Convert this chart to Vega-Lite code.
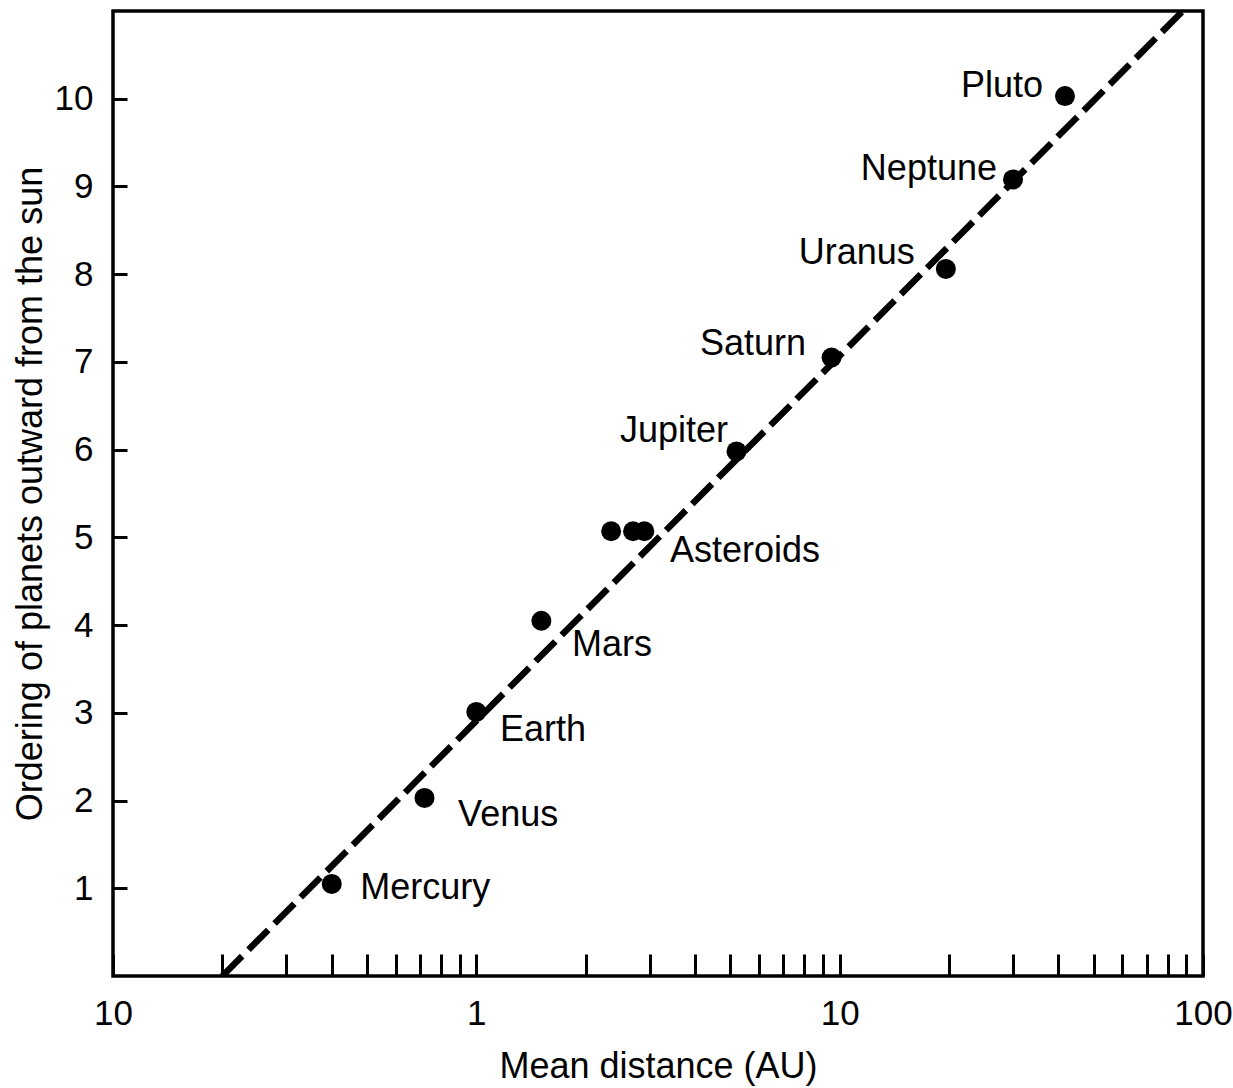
{
  "$schema": "https://vega.github.io/schema/vega-lite/v6.json",
  "width": 1090,
  "height": 965,
  "autosize": {"type": "none"},
  "padding": {"left": 113, "top": 11, "right": 30, "bottom": 112},
  "background": "white",
  "config": {
    "view": {"stroke": "black", "strokeWidth": 3.5},
    "font": "Liberation Sans",
    "axis": {
      "grid": false,
      "domain": false,
      "tickColor": "black",
      "labelColor": "black",
      "titleColor": "black",
      "labelFont": "Liberation Sans",
      "titleFont": "Liberation Sans",
      "labelFontSize": 35,
      "titleFontSize": 36,
      "titleFontWeight": "normal"
    }
  },
  "datasets": {
    "fit": [
      {"distance": 0.2, "order": 0},
      {"distance": 88, "order": 11}
    ],
    "planets": [
      {"name": "Mercury", "distance": 0.40, "order": 1.05},
      {"name": "Venus", "distance": 0.72, "order": 2.03},
      {"name": "Earth", "distance": 1.0, "order": 3.01},
      {"name": "Mars", "distance": 1.51, "order": 4.05},
      {"name": "Asteroid A", "distance": 2.35, "order": 5.07},
      {"name": "Asteroid B", "distance": 2.70, "order": 5.07},
      {"name": "Asteroid C", "distance": 2.90, "order": 5.07},
      {"name": "Jupiter", "distance": 5.2, "order": 5.98},
      {"name": "Saturn", "distance": 9.5, "order": 7.05},
      {"name": "Uranus", "distance": 19.6, "order": 8.06},
      {"name": "Neptune", "distance": 30.0, "order": 9.08},
      {"name": "Pluto", "distance": 41.7, "order": 10.03}
    ],
    "labels": [
      {"label": "Mercury", "side": "left", "distance": 0.479, "order": 1.0},
      {"label": "Venus", "side": "left", "distance": 0.891, "order": 1.84},
      {"label": "Earth", "side": "left", "distance": 1.162, "order": 2.8},
      {"label": "Mars", "side": "left", "distance": 1.834, "order": 3.77},
      {"label": "Asteroids", "side": "left", "distance": 3.41, "order": 4.84},
      {"label": "Jupiter", "side": "right", "distance": 4.93, "order": 6.21},
      {"label": "Saturn", "side": "right", "distance": 8.08, "order": 7.2},
      {"label": "Uranus", "side": "right", "distance": 16.1, "order": 8.24},
      {"label": "Neptune", "side": "right", "distance": 27.1, "order": 9.2},
      {"label": "Pluto", "side": "right", "distance": 36.3, "order": 10.14}
    ]
  },
  "layer": [
    {
      "data": {"name": "fit"},
      "mark": {"type": "line", "strokeDash": [28, 9], "strokeWidth": 6.5, "color": "black", "clip": true, "strokeCap": "butt"},
      "encoding": {
        "x": {
          "field": "distance", "type": "quantitative",
          "scale": {"type": "log", "domain": [0.1, 100], "nice": false},
          "axis": {
            "title": "Mean distance (AU)",
            "values": [0.1, 0.2, 0.3, 0.4, 0.5, 0.6, 0.7, 0.8, 0.9, 1, 2, 3, 4, 5, 6, 7, 8, 9, 10, 20, 30, 40, 50, 60, 70, 80, 90, 100],
            "labelExpr": "datum.value == 0.1 ? '10' : (datum.value == 1 ? '1' : (datum.value == 10 ? '10' : (datum.value == 100 ? '100' : '')))",
            "tickSize": -22,
            "tickWidth": 3,
            "labelPadding": 42,
            "labelOverlap": false,
            "labelFlush": false,
            "titlePadding": 18
          }
        },
        "y": {
          "field": "order", "type": "quantitative",
          "scale": {"domain": [0, 11], "nice": false},
          "axis": {
            "title": "Ordering of planets outward from the sun",
            "values": [1, 2, 3, 4, 5, 6, 7, 8, 9, 10],
            "format": "d",
            "tickSize": -14,
            "tickWidth": 3,
            "labelPadding": 34,
            "titlePadding": 5
          }
        }
      }
    },
    {
      "data": {"name": "planets"},
      "mark": {"type": "circle", "size": 400, "opacity": 1, "color": "black"},
      "encoding": {
        "x": {"field": "distance", "type": "quantitative"},
        "y": {"field": "order", "type": "quantitative"}
      }
    },
    {
      "data": {"name": "labels"},
      "transform": [{"filter": "datum.side == 'left'"}],
      "mark": {"type": "text", "align": "left", "baseline": "middle", "fontSize": 36, "font": "Liberation Sans", "color": "black"},
      "encoding": {
        "x": {"field": "distance", "type": "quantitative"},
        "y": {"field": "order", "type": "quantitative"},
        "text": {"field": "label"}
      }
    },
    {
      "data": {"name": "labels"},
      "transform": [{"filter": "datum.side == 'right'"}],
      "mark": {"type": "text", "align": "right", "baseline": "middle", "fontSize": 36, "font": "Liberation Sans", "color": "black"},
      "encoding": {
        "x": {"field": "distance", "type": "quantitative"},
        "y": {"field": "order", "type": "quantitative"},
        "text": {"field": "label"}
      }
    }
  ]
}
